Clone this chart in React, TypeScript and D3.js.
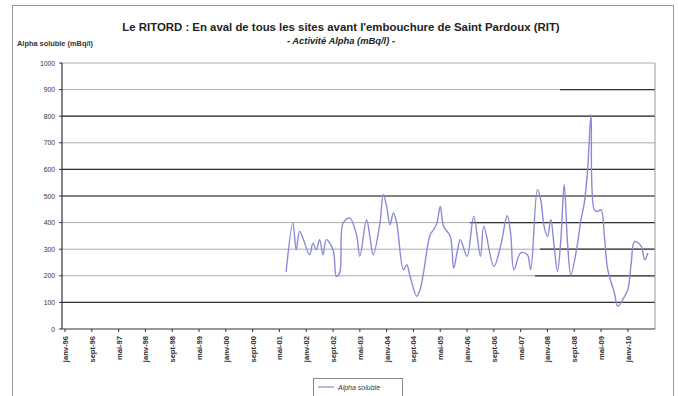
import React from "react";
import * as d3 from "d3";

const TITLE = "Le RITORD : En aval de tous les sites avant l'embouchure de Saint Pardoux (RIT)";
const SUBTITLE = "- Activité Alpha (mBq/l) -";
const Y_TITLE = "Alpha soluble (mBq/l)";
const SERIES_NAME = "Alpha soluble";

const yTicks = [0, 100, 200, 300, 400, 500, 600, 700, 800, 900, 1000];
const xTickMonths = [0, 8, 16, 24, 32, 40, 48, 56, 64, 72, 80, 88, 96, 104, 112, 120, 128, 136, 144, 152, 160, 168];
const xTickLabels = [
  "janv-96", "sept-96", "mai-97", "janv-98", "sept-98", "mai-99", "janv-00", "sept-00",
  "mai-01", "janv-02", "sept-02", "mai-03", "janv-04", "sept-04", "mai-05", "janv-06",
  "sept-06", "mai-07", "janv-08", "sept-08", "mai-09", "janv-10",
];

const dates = [
  "2001-07", "2001-09", "2001-10", "2001-11", "2001-12", "2002-02", "2002-03", "2002-04",
  "2002-05", "2002-06", "2002-07", "2002-09", "2002-10", "2002-11", "2002-12", "2003-02",
  "2003-04", "2003-05", "2003-07", "2003-08", "2003-09", "2003-11", "2003-12", "2004-01",
  "2004-02", "2004-03", "2004-04", "2004-06", "2004-07", "2004-08", "2004-10", "2004-11",
  "2004-12", "2005-02", "2005-03", "2005-04", "2005-05", "2005-06", "2005-08", "2005-09",
  "2005-10", "2005-11", "2006-01", "2006-03", "2006-05", "2006-06", "2006-09", "2006-11",
  "2007-01", "2007-02", "2007-03", "2007-05", "2007-07", "2007-08", "2007-10", "2007-11",
  "2007-12", "2008-01", "2008-02", "2008-03", "2008-04", "2008-05", "2008-06", "2008-07",
  "2008-08", "2008-10", "2008-11", "2008-12", "2009-01", "2009-02", "2009-03", "2009-04",
  "2009-05", "2009-06", "2009-07", "2009-09", "2009-10", "2009-12", "2010-01", "2010-02",
  "2010-03", "2010-05", "2010-06", "2010-07",
];
const alphaSoluble = [
  215, 398, 298, 367, 342, 279, 323, 298,
  336, 279, 336, 298, 198, 212, 398, 417,
  355, 273, 411, 348, 279, 398, 505, 461,
  392, 436, 398, 223, 242, 198, 123, 148,
  211, 355, 373, 398, 461, 386, 348, 229,
  286, 336, 273, 423, 273, 386, 235, 311,
  426, 361, 223, 286, 279, 223, 524, 486,
  386, 348, 411, 311, 217, 336, 543, 323,
  204, 323, 411, 474, 600, 806, 448, 442,
  448, 348, 223, 135, 85, 123, 148, 248,
  329, 311, 260, 286,
];

const W = 678;
const H = 396;
const plot = { left: 62, right: 655, top: 63, bottom: 329 };
// scan-like grid shading: value -> x pixel from which the line is dark (0 = whole line)
const darkFrom: Record<number, number> = { 100: 0, 200: 535, 300: 540, 400: 470, 500: 0, 600: 0, 800: 0, 900: 560 };

function monthIndex(s: string): number {
  const [y, m] = s.split("-").map(Number);
  return (y - 1996) * 12 + (m - 1);
}

export default function App() {
  const x = d3.scaleLinear().domain([-0.9, 176.1]).range([plot.left, plot.right]);
  const y = d3.scaleLinear().domain([0, 1000]).range([plot.bottom, plot.top]);
  const points = dates.map((d, i) => ({ m: monthIndex(d), v: alphaSoluble[i] }));
  const line = d3
    .line<{ m: number; v: number }>()
    .x((d) => x(d.m))
    .y((d) => y(d.v))
    .curve(d3.curveCatmullRom.alpha(0.5));
  const font = "Arial, 'Liberation Sans', sans-serif";

  return (
    <svg
      width={W}
      height={H}
      style={{ position: "absolute", left: 0, top: 0, background: "#fff" }}
      fontFamily={font}
    >
      <rect x={0} y={0} width={W} height={H} fill="#fff" />
      <rect x={12.5} y={5.5} width={661} height={400} fill="none" stroke="#999" strokeWidth={1} />
      <text x={341} y={31} textAnchor="middle" fontSize={11.4} fontWeight="bold" fill="#222">
        {TITLE}
      </text>
      <text x={341} y={44} textAnchor="middle" fontSize={9.4} fontWeight="bold" fontStyle="italic" fill="#222">
        {SUBTITLE}
      </text>
      <text x={17} y={46} fontSize={7.4} fontWeight="bold" fill="#333">
        {Y_TITLE}
      </text>

      {yTicks.map((t) => {
        const df = darkFrom[t];
        return (
          <g key={t}>
            {t > 0 && (
              <line x1={plot.left} x2={plot.right} y1={y(t)} y2={y(t)} stroke="#aaa" strokeWidth={1} />
            )}
            {t > 0 && df !== undefined && (
              <line
                x1={df === 0 ? plot.left : df}
                x2={plot.right}
                y1={y(t)}
                y2={y(t)}
                stroke="#333"
                strokeWidth={1.2}
              />
            )}
            <line x1={plot.left - 3} x2={plot.left} y1={y(t)} y2={y(t)} stroke="#333" />
            <text x={55} y={y(t) + 2.5} textAnchor="end" fontSize={6.8} fill="#333">
              {t}
            </text>
          </g>
        );
      })}

      <line x1={plot.right} x2={plot.right} y1={plot.top} y2={plot.bottom} stroke="#999" />
      <line x1={plot.left} x2={plot.left} y1={plot.top} y2={plot.bottom} stroke="#333" strokeWidth={1.2} />
      <line x1={plot.left} x2={plot.right} y1={plot.bottom} y2={plot.bottom} stroke="#333" strokeWidth={1.2} />

      {xTickMonths.map((m, i) => (
        <g key={m}>
          <line x1={x(m)} x2={x(m)} y1={plot.bottom} y2={plot.bottom + 3} stroke="#333" />
          <text
            transform={`translate(${x(m) + 3},${plot.bottom + 7}) rotate(-90)`}
            textAnchor="end"
            fontSize={7.6}
            fontWeight="bold"
            fill="#333"
          >
            {xTickLabels[i]}
          </text>
        </g>
      ))}

      <path d={line(points) ?? ""} fill="none" stroke="#8a8ad8" strokeWidth={1.4} />

      <rect x={313.5} y={378.5} width={89} height={20} fill="#fff" stroke="#888" />
      <line x1={318} x2={334} y1={387} y2={387} stroke="#8a8ad8" strokeWidth={1.2} />
      <text x={338} y={389.5} fontSize={7} fontStyle="italic" fill="#333">
        {SERIES_NAME}
      </text>
    </svg>
  );
}
